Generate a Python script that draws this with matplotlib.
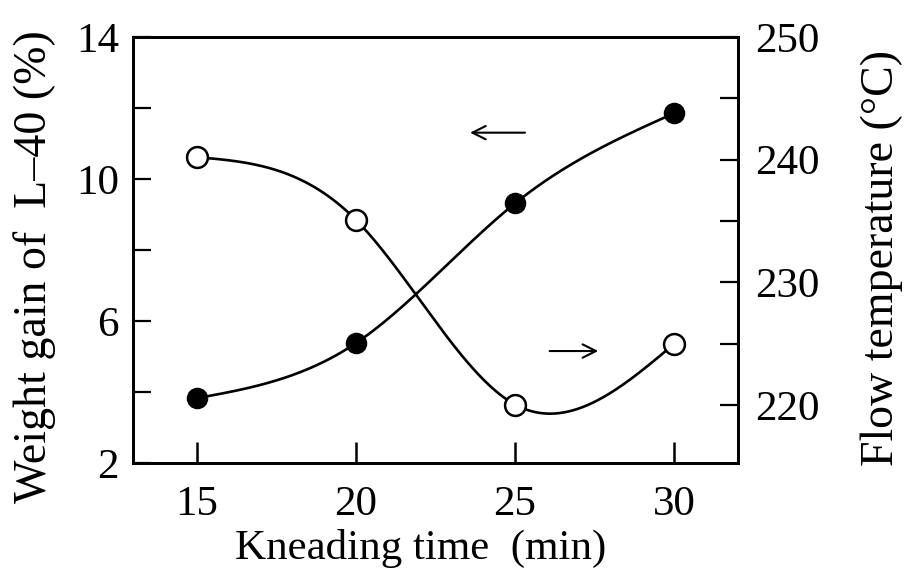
import numpy as np
import matplotlib
matplotlib.use("Agg")
import matplotlib.pyplot as plt
from matplotlib.ticker import FixedLocator

# Kneading time (min)
kneading_time = [15, 20, 25, 30]
# Weight gain of L-40 (%), left axis, filled circles
weight_gain = [3.82, 5.37, 9.31, 11.85]
# Flow temperature (°C), right axis, open circles
flow_temp = [240.2, 235.1, 220.05, 225.0]

x_ticks = [15, 20, 25, 30]
left_major = [2, 6, 10, 14]
left_minor = [4, 8, 12]
right_major = [220, 230, 240, 250]
right_minor = [225, 235, 245]


def natural_spline(x, y, n=300):
    """Natural cubic spline through the given points."""
    x = np.asarray(x, float)
    y = np.asarray(y, float)
    k = len(x)
    h = np.diff(x)
    A = np.zeros((k, k))
    b = np.zeros(k)
    A[0, 0] = A[-1, -1] = 1.0
    for i in range(1, k - 1):
        A[i, i - 1] = h[i - 1]
        A[i, i] = 2 * (h[i - 1] + h[i])
        A[i, i + 1] = h[i]
        b[i] = 6 * ((y[i + 1] - y[i]) / h[i] - (y[i] - y[i - 1]) / h[i - 1])
    m = np.linalg.solve(A, b)
    xs = np.linspace(x[0], x[-1], n)
    idx = np.clip(np.searchsorted(x, xs) - 1, 0, k - 2)
    x0, x1 = x[idx], x[idx + 1]
    hh = x1 - x0
    t0 = x1 - xs
    t1 = xs - x0
    ys = (m[idx] * t0 ** 3 + m[idx + 1] * t1 ** 3) / (6 * hh) \
        + (y[idx] / hh - m[idx] * hh / 6) * t0 \
        + (y[idx + 1] / hh - m[idx + 1] * hh / 6) * t1
    return xs, ys


plt.rcParams["font.family"] = ["Liberation Serif", "DejaVu Serif"]

fig = plt.figure(figsize=(9.1, 5.75), dpi=100)
ax = fig.add_axes([0.146, 0.195, 0.665, 0.741])
ax2 = ax.twinx()

ax.set_xlim(13, 32)
ax.set_ylim(2, 14)
ax2.set_ylim(215.3, 250)

# Weight gain curve
xs, ys = natural_spline(kneading_time, weight_gain)
ax.plot(xs, ys, color="black", lw=1.9, zorder=2)
ax.plot(kneading_time, weight_gain, "o", ms=14, mfc="black", mec="black",
        mew=1.5, zorder=3, clip_on=False)

# Flow temperature curve
xs2, ys2 = natural_spline(kneading_time, flow_temp)
ax2.plot(xs2, ys2, color="black", lw=1.9, zorder=2)
ax2.plot(kneading_time, flow_temp, "o", ms=15, mfc="white", mec="black",
         mew=1.8, zorder=3, clip_on=False)

# Arrows pointing to each curve's axis
ax.annotate("", xy=(23.5, 11.3), xytext=(25.4, 11.3),
            arrowprops=dict(arrowstyle="->", lw=1.5, color="black",
                            mutation_scale=24))
ax.annotate("", xy=(27.7, 5.15), xytext=(26.0, 5.15),
            arrowprops=dict(arrowstyle="->", lw=1.5, color="black",
                            mutation_scale=24))

# Ticks
ax.xaxis.set_major_locator(FixedLocator(x_ticks))
ax.yaxis.set_major_locator(FixedLocator(left_major))
ax.yaxis.set_minor_locator(FixedLocator(left_minor))
ax2.yaxis.set_major_locator(FixedLocator(right_major))
ax2.yaxis.set_minor_locator(FixedLocator(right_minor))

ax.tick_params(axis="x", which="major", direction="in", length=15, width=1.8,
               labelsize=31, pad=16, top=False)
ax.tick_params(axis="y", which="both", direction="in", length=13, width=1.6,
               labelsize=31, pad=10, right=False)
ax2.tick_params(axis="y", which="both", direction="in", length=13, width=1.6,
                labelsize=31, pad=12)

for a in (ax, ax2):
    for s in a.spines.values():
        s.set_linewidth(2.0)

ax.set_xlabel("Kneading time  (min)", fontsize=31)
ax.xaxis.set_label_coords(0.475, -0.155)
ax.set_ylabel("Weight gain of  L\u201340 (%)", fontsize=33)
ax.yaxis.set_label_coords(-0.127, 0.46)
ax2.set_ylabel("Flow temperature (\u00b0C)", fontsize=33, rotation=90)
ax2.yaxis.set_label_coords(1.203, 0.48)

fig.savefig("out.png", dpi=100)
